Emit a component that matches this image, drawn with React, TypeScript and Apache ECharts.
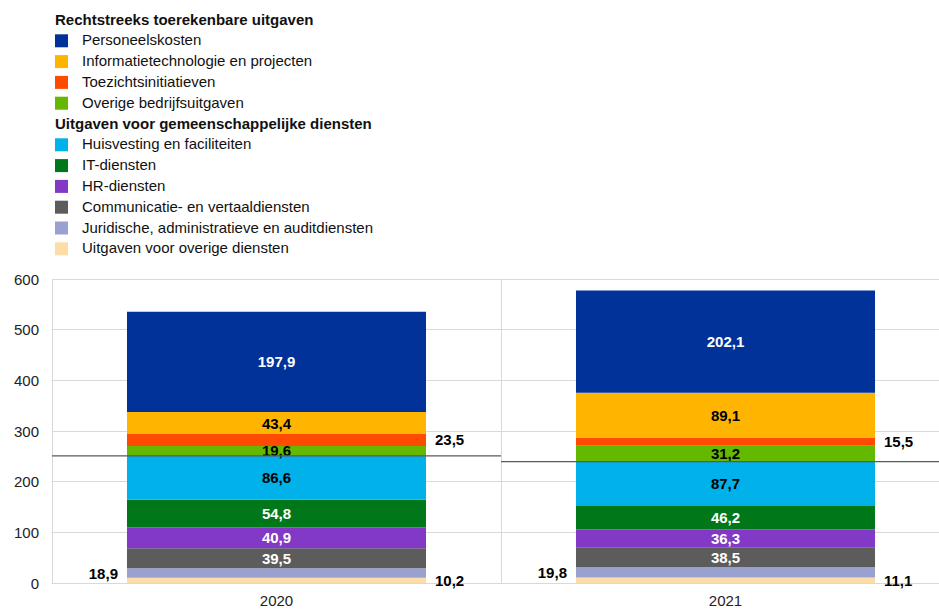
import React, { useEffect, useRef } from "react";
import * as echarts from "echarts";

const categories = ["2020", "2021"];

// stacked from bottom to top
const overigeDiensten = [10.2, 11.1];
const juridische = [18.9, 19.8];
const communicatie = [39.5, 38.5];
const hrDiensten = [40.9, 36.3];
const itDiensten = [54.8, 46.2];
const huisvesting = [86.6, 87.7];
const overigeBedrijf = [19.6, 31.2];
const toezicht = [23.5, 15.5];
const itProjecten = [43.4, 89.1];
const personeel = [197.9, 202.1];

const yTicks = [0, 100, 200, 300, 400, 500, 600];

const headerDirect = "Rechtstreeks toerekenbare uitgaven";
const headerShared = "Uitgaven voor gemeenschappelijke diensten";

type S = {
  name: string;
  data: number[];
  color: string;
  labelPos: string;
  labelColor: string;
  shared: boolean;
};

const seriesDefs: S[] = [
  { name: "Uitgaven voor overige diensten", data: overigeDiensten, color: "#FDDDA7", labelPos: "right", labelColor: "#000", shared: true },
  { name: "Juridische, administratieve en auditdiensten", data: juridische, color: "#98A1D0", labelPos: "left", labelColor: "#000", shared: true },
  { name: "Communicatie- en vertaaldiensten", data: communicatie, color: "#5C5C5C", labelPos: "inside", labelColor: "#fff", shared: true },
  { name: "HR-diensten", data: hrDiensten, color: "#8139C6", labelPos: "inside", labelColor: "#fff", shared: true },
  { name: "IT-diensten", data: itDiensten, color: "#00781A", labelPos: "inside", labelColor: "#fff", shared: true },
  { name: "Huisvesting en faciliteiten", data: huisvesting, color: "#00B1EA", labelPos: "inside", labelColor: "#000", shared: true },
  { name: "Overige bedrijfsuitgaven", data: overigeBedrijf, color: "#65B800", labelPos: "inside", labelColor: "#000", shared: false },
  { name: "Toezichtsinitiatieven", data: toezicht, color: "#FF4B00", labelPos: "right", labelColor: "#000", shared: false },
  { name: "Informatietechnologie en projecten", data: itProjecten, color: "#FFB400", labelPos: "inside", labelColor: "#000", shared: false },
  { name: "Personeelskosten", data: personeel, color: "#003299", labelPos: "inside", labelColor: "#fff", shared: false },
];

const FONT = "'Liberation Sans', Arial, Helvetica, sans-serif";
const FS = 15;

export default function App() {
  const ref = useRef<HTMLDivElement>(null);

  useEffect(() => {
    if (!ref.current) return;
    const chart = echarts.init(ref.current, undefined, { renderer: "svg" });

    const sharedTotals = categories.map((_, i) =>
      seriesDefs.filter((s) => s.shared).reduce((a, s) => a + s.data[i], 0)
    );

    const fmt = (v: number) => v.toFixed(1).replace(".", ",");

    const barSeries = seriesDefs.map((s) => ({
      type: "bar",
      name: s.name,
      stack: "total",
      data: s.data,
      barWidth: "66.6%",
      itemStyle: { color: s.color },
      label: {
        show: true,
        position: s.labelPos,
        distance: 9,
        color: s.labelColor,
        fontFamily: FONT,
        fontWeight: "bold",
        fontSize: FS,
        formatter: (p: any) => fmt(p.value),
      },
    }));

    const lineSeries = {
      type: "custom",
      name: "divider",
      z: 10,
      data: categories.map((_, i) => [i, sharedTotals[i]]),
      encode: { x: 0, y: 1 },
      renderItem: (params: any, api: any) => {
        const idx = api.value(0);
        const v = api.value(1);
        const p = api.coord([idx, v]);
        const w = api.size([1, 0])[0];
        return {
          type: "line",
          shape: { x1: p[0] - w / 2, y1: p[1], x2: p[0] + w / 2, y2: p[1] },
          style: { stroke: "#5a5a5a", lineWidth: 1.4 },
        };
      },
    };

    // legend built as graphic elements
    const graphics: any[] = [];
    const direct = seriesDefs.filter((s) => !s.shared).reverse();
    const shared = seriesDefs.filter((s) => s.shared).reverse();
    const rowH = 20.8;
    let y = 20;
    const addHeader = (t: string) => {
      graphics.push({
        type: "text",
        left: 55,
        top: y - 8.5,
        style: { text: t, fill: "#111", font: `bold ${FS}px ${FONT}` },
      });
      y += rowH;
    };
    const addItem = (s: S) => {
      graphics.push({
        type: "rect",
        shape: { x: 55, y: y - 6.5, width: 13, height: 13 },
        style: { fill: s.color },
      });
      graphics.push({
        type: "text",
        left: 82,
        top: y - 8.5,
        style: { text: s.name, fill: "#111", font: `${FS}px ${FONT}` },
      });
      y += rowH;
    };
    addHeader(headerDirect);
    direct.forEach(addItem);
    addHeader(headerShared);
    shared.forEach(addItem);

    chart.setOption({
      animation: false,
      textStyle: { fontFamily: FONT },
      grid: { left: 52, right: 0, top: 279, bottom: 26 },
      xAxis: {
        type: "category",
        data: categories,
        axisTick: { show: false },
        axisLine: { lineStyle: { color: "#d9d9d9" } },
        axisLabel: { color: "#222", fontSize: FS, margin: 10, fontFamily: FONT },
        splitLine: { show: true, lineStyle: { color: "#d9d9d9" } },
      },
      yAxis: {
        type: "value",
        min: yTicks[0],
        max: yTicks[yTicks.length - 1],
        interval: 100,
        axisLine: { show: false },
        axisTick: { show: false },
        axisLabel: { color: "#222", fontSize: FS, margin: 13, fontFamily: FONT },
        splitLine: { show: true, lineStyle: { color: "#d9d9d9" } },
      },
      graphic: graphics,
      series: [...barSeries, lineSeries],
    });

    return () => chart.dispose();
  }, []);

  return (
    <div style={{ position: "fixed", left: 0, top: 0, width: 939, height: 609, overflow: "hidden", background: "#fff" }}>
      <div ref={ref} style={{ width: 950, height: 609 }} />
    </div>
  );
}
